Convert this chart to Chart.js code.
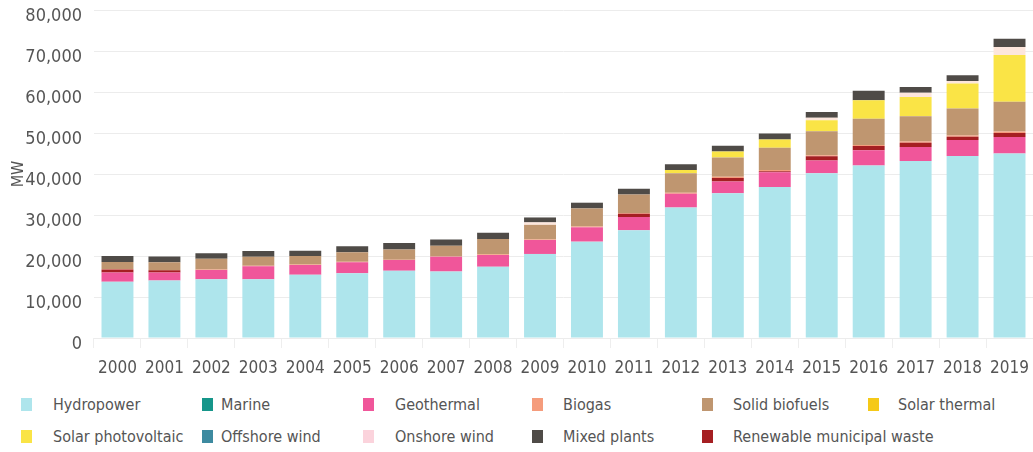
<!DOCTYPE html>
<html>
<head>
<meta charset="utf-8">
<script src="https://cdn.jsdelivr.net/npm/chart.js@4.4.1/dist/chart.umd.min.js"></script>
<style>
	body { margin: 0; background: #fff; }
	#wrap { position: relative; width: 1033px; height: 452px; }
	#box { position: absolute; left: 0; top: 0; width: 1033px; height: 385px; }
	#legend { position: absolute; left: 0; top: 385px; width: 1033px; height: 67px; }
	.item { position: absolute; font-family: "DejaVu Sans Condensed", "Liberation Sans Narrow", Roboto, sans-serif; font-stretch: condensed; font-size: 16px; color: #555; white-space: nowrap; line-height: 20px; }
	.sw { position: absolute; width: 11px; height: 13px; }
</style>
</head>
<body>
<div id="wrap">
	<div id="box"><canvas id="capacity"></canvas></div>
	<div id="legend"></div>
</div>
<script>
// 年
const years = [ '2000', '2001', '2002', '2003', '2004', '2005', '2006', '2007', '2008', '2009',
	'2010', '2011', '2012', '2013', '2014', '2015', '2016', '2017', '2018', '2019' ];

// MW
const hydropower = [ 13700, 14000, 14300, 14300, 15400, 15800, 16400, 16200, 17400, 20500,
	23500, 26300, 31800, 35300, 36800, 40200, 42100, 43200, 44400, 45000 ];
const marine = [ 0, 0, 0, 0, 0, 0, 0, 0, 0, 0, 0, 0, 0, 0, 0, 0, 0, 0, 0, 0 ];
const geothermal = [ 2300, 2000, 2300, 3200, 2400, 2700, 2600, 3600, 2850, 3400,
	3500, 3200, 3400, 2850, 3600, 3100, 3700, 3400, 3900, 4000 ];
const municipalWaste = [ 700, 500, 0, 0, 0, 0, 0, 0, 0, 0,
	0, 800, 0, 900, 300, 1000, 1000, 1000, 800, 1000 ];
const biogas = [ 100, 100, 100, 100, 100, 100, 100, 100, 150, 150,
	200, 200, 200, 250, 250, 300, 300, 300, 300, 350 ];
const solidBiofuels = [ 1750, 1900, 2600, 2200, 2100, 2300, 2500, 2600, 3750, 3550,
	4400, 4500, 4800, 4750, 5450, 5800, 6400, 6200, 6600, 7250 ];
const solarThermal = [ 0, 0, 0, 0, 0, 0, 0, 0, 0, 0, 0, 0, 0, 0, 0, 0, 0, 0, 0, 0 ];
const solarPV = [ 0, 0, 0, 0, 0, 0, 0, 0, 0, 0,
	0, 0, 800, 1450, 2000, 2700, 4500, 4700, 6100, 11400 ];
const offshoreWind = [ 0, 0, 0, 0, 0, 0, 0, 0, 0, 0, 0, 0, 0, 0, 0, 0, 0, 0, 0, 0 ];
const onshoreWind = [ 0, 0, 0, 0, 0, 0, 0, 0, 0, 600,
	0, 0, 0, 0, 0, 600, 0, 1000, 600, 2000 ];
const mixedPlants = [ 1450, 1400, 1400, 1450, 1300, 1500, 1600, 1500, 1500, 1200,
	1400, 1400, 1400, 1400, 1450, 1400, 2300, 1400, 1400, 2000 ];

const yTicks = [ 0, 10000, 20000, 30000, 40000, 50000, 60000, 70000, 80000 ];

const FONT = '"DejaVu Sans Condensed", "Liberation Sans Narrow", Roboto, sans-serif';

// 積み上げ順（下から）
const series = [
	{ label: 'Hydropower', data: hydropower, color: '#aee5ec' },
	{ label: 'Marine', data: marine, color: '#16968a' },
	{ label: 'Geothermal', data: geothermal, color: '#f0569a' },
	{ label: 'Renewable municipal waste', data: municipalWaste, color: '#a51f22' },
	{ label: 'Biogas', data: biogas, color: '#f59c7c' },
	{ label: 'Solid biofuels', data: solidBiofuels, color: '#bf9670' },
	{ label: 'Solar thermal', data: solarThermal, color: '#f5c918' },
	{ label: 'Solar photovoltaic', data: solarPV, color: '#fae446' },
	{ label: 'Offshore wind', data: offshoreWind, color: '#3d8aa0' },
	{ label: 'Onshore wind', data: onshoreWind, color: '#fde6dc' },
	{ label: 'Mixed plants', data: mixedPlants, color: '#4f4b47' }
];

// 凡例の並び
const legendRows = [
	[ 'Hydropower', 'Marine', 'Geothermal', 'Biogas', 'Solid biofuels', 'Solar thermal' ],
	[ 'Solar photovoltaic', 'Offshore wind', 'Onshore wind', 'Mixed plants', 'Renewable municipal waste' ]
];
const legendSwatch = { 'Onshore wind': '#fbd3dc' };
const swatchX = [ 21, 202, 363, 532, 702, 868 ];
const textX = [ 53, 221, 395, 563, 733, 898 ];
const rowY = [ 20, 52 ];

const chart = new Chart( document.getElementById( 'capacity' ), {
	type: 'bar',
	data: {
		labels: years,
		datasets: series.map( function ( s ) {
			return {
				label: s.label,
				data: s.data,
				backgroundColor: s.color,
				borderWidth: 0,
				barPercentage: 0.68,
				categoryPercentage: 1
			};
		} )
	},
	options: {
		responsive: true,
		maintainAspectRatio: false,
		animation: false,
		layout: { padding: { left: 0, right: 0, top: 10, bottom: 0 } },
		plugins: {
			legend: { display: false },
			tooltip: { enabled: false }
		},
		scales: {
			x: {
				stacked: true,
				grid: { display: true, drawOnChartArea: false, color: '#eeeeee', tickLength: 10 },
				border: { display: false },
				ticks: { color: '#555', font: { family: FONT, size: 17, style: 'condensed' }, padding: 10, maxRotation: 0, minRotation: 0, autoSkip: false },
				afterFit: function ( scale ) {
					scale.height = 47;
					scale.paddingLeft = 0;
					scale.paddingRight = 0;
				}
			},
			y: {
				stacked: true,
				min: 0,
				max: 80000,
				afterBuildTicks: function ( scale ) {
					scale.ticks = yTicks.map( function ( v ) { return { value: v }; } );
				},
				grid: { color: '#ececec', drawTicks: false },
				border: { display: false },
				ticks: {
					color: '#555',
					font: { family: FONT, size: 18, style: 'condensed' },
					padding: 12,
					labelOffset: 6,
					callback: function ( v ) { return v.toLocaleString( 'en-US' ); }
				},
				title: { display: true, text: 'MW', color: '#555', font: { family: FONT, size: 16, style: 'condensed' }, padding: { top: 9, bottom: 0 } },
				afterFit: function ( scale ) {
					scale.width = 94;
					scale.paddingTop = 0;
					scale.paddingBottom = 0;
				}
			}
		}
	}
} );

// HTML凡例
const legend = document.getElementById( 'legend' );
legendRows.forEach( function ( row, r ) {
	row.forEach( function ( name, c ) {
		const s = series.find( function ( x ) { return x.label === name; } );
		const sw = document.createElement( 'div' );
		sw.className = 'sw';
		sw.style.left = swatchX[ c ] + 'px';
		sw.style.top = ( rowY[ r ] - 7 ) + 'px';
		sw.style.background = legendSwatch[ name ] || s.color;
		legend.appendChild( sw );
		const t = document.createElement( 'div' );
		t.className = 'item';
		t.style.left = textX[ c ] + 'px';
		t.style.top = ( rowY[ r ] - 10 ) + 'px';
		t.textContent = name;
		legend.appendChild( t );
	} );
} );
</script>
</body>
</html>
